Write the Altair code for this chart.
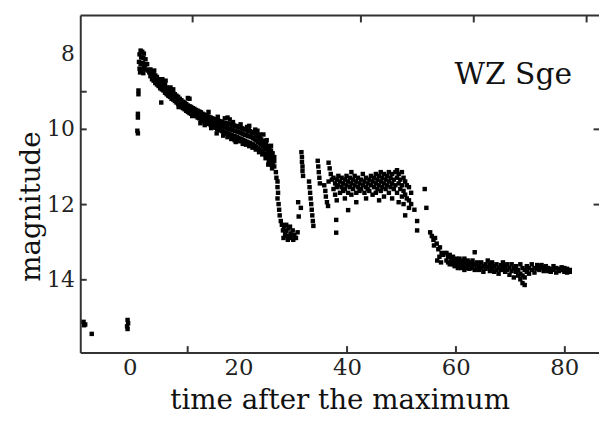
import altair as alt
import pandas as pd

# ---------------- data ----------------
quiet = [(-8.5, 15.13), (-8.2, 15.2), (-8.4, 15.22), (-7.0, 15.45),
         (-0.4, 15.08), (-0.3, 15.17), (-0.5, 15.25), (-0.4, 15.32)]

rise = [(1.6, 8.98), (1.6, 9.08), (1.5, 9.6), (1.5, 9.7), (1.4, 10.05), (1.5, 10.12)]

peak = [(2.0, 7.92), (2.3, 7.95), (2.6, 8.0), (1.8, 8.02), (2.1, 8.1), (2.5, 8.12),
        (2.9, 8.15), (1.7, 8.22), (2.0, 8.28), (2.4, 8.25), (2.8, 8.3), (3.2, 8.28),
        (1.8, 8.4), (2.2, 8.42), (2.6, 8.38), (3.0, 8.42), (3.4, 8.45), (1.9, 8.5),
        (2.5, 8.52), (3.6, 8.5)]

# rows: time, brightest, middle, faintest magnitude of the declining band
decline = [
    (3.8, 8.42, 8.5, 8.6), (4.1, 8.48, 8.58, 8.68), (4.4, 8.55, 8.62, 8.72),
    (4.7, 8.58, 8.68, 8.78), (5.0, 8.62, 8.7, 8.82), (5.3, 8.68, 8.78, 8.86),
    (5.6, 8.72, 8.8, 8.92), (5.9, 8.76, 8.85, 8.95), (6.2, 8.8, 8.9, 8.98),
    (6.5, 8.84, 8.92, 9.04), (6.8, 8.9, 8.98, 9.08), (7.1, 8.93, 9.02, 9.12),
    (7.4, 8.98, 9.06, 9.15), (7.7, 9.0, 9.1, 9.2), (8.0, 9.05, 9.12, 9.22),
    (8.3, 9.08, 9.18, 9.26), (8.6, 9.12, 9.2, 9.3), (8.9, 9.15, 9.25, 9.34),
    (9.2, 9.2, 9.28, 9.36), (9.5, 9.24, 9.32, 9.42), (9.8, 9.28, 9.36, 9.45),
    (10.1, 9.3, 9.4, 9.48), (10.4, 9.34, 9.42, 9.52), (10.7, 9.38, 9.46, 9.55),
    (11.0, 9.4, 9.48, 9.58), (11.3, 9.42, 9.5, 9.6), (11.6, 9.45, 9.53, 9.62),
    (11.9, 9.47, 9.55, 9.65), (12.2, 9.5, 9.58, 9.66), (12.5, 9.52, 9.6, 9.7),
    (12.8, 9.54, 9.62, 9.72), (13.1, 9.56, 9.65, 9.74), (13.4, 9.6, 9.67, 9.77),
    (13.7, 9.62, 9.7, 9.8), (14.0, 9.64, 9.72, 9.82), (14.3, 9.66, 9.74, 9.85),
    (14.6, 9.68, 9.77, 9.87), (14.9, 9.7, 9.8, 9.9), (15.2, 9.72, 9.82, 9.92),
    (15.5, 9.74, 9.84, 9.95), (15.8, 9.76, 9.86, 9.97), (16.1, 9.78, 9.88, 10.0),
    (16.4, 9.79, 9.9, 10.02), (16.7, 9.8, 9.92, 10.04), (17.0, 9.82, 9.94, 10.06),
    (17.3, 9.84, 9.95, 10.08), (17.6, 9.85, 9.96, 10.1), (17.9, 9.86, 9.98, 10.12),
    (18.2, 9.86, 10.0, 10.13), (18.5, 9.88, 10.01, 10.15), (18.8, 9.9, 10.02, 10.17),
    (19.1, 9.9, 10.04, 10.19), (19.4, 9.92, 10.05, 10.2), (19.7, 9.93, 10.07, 10.22),
    (20.0, 9.95, 10.08, 10.24), (20.3, 9.96, 10.1, 10.26), (20.6, 9.98, 10.12, 10.28),
    (20.9, 10.0, 10.14, 10.3), (21.2, 10.01, 10.16, 10.32), (21.5, 10.03, 10.17, 10.34),
    (21.8, 10.05, 10.19, 10.36), (22.1, 10.06, 10.2, 10.38), (22.4, 10.08, 10.22, 10.4),
    (22.7, 10.1, 10.25, 10.42), (23.0, 10.12, 10.28, 10.45), (23.3, 10.16, 10.31, 10.48),
    (23.6, 10.2, 10.35, 10.52), (23.9, 10.24, 10.38, 10.55), (24.2, 10.28, 10.42, 10.58),
    (24.5, 10.32, 10.46, 10.62), (24.8, 10.36, 10.5, 10.66), (25.1, 10.4, 10.54, 10.7),
    (25.4, 10.46, 10.6, 10.76), (25.7, 10.52, 10.65, 10.8), (26.0, 10.58, 10.7, 10.86),
    (26.3, 10.65, 10.78, 10.93), (26.6, 10.75, 10.86, 11.0),
]

decline_extra = [(5.8, 9.3), (10.7, 9.18), (11.0, 9.2), (17.5, 9.72), (18.0, 9.7),
                 (18.4, 9.75), (21.6, 9.95), (22.0, 9.92), (8.0, 8.95), (6.6, 8.72),
                 (14.5, 9.55), (19.5, 10.35), (23.5, 10.05), (24.6, 10.15), (25.5, 10.95),
                 (26.2, 11.05), (13.0, 9.85), (16.0, 10.12),
                 (17.2, 10.18), (18.0, 10.22), (18.7, 10.27), (19.3, 10.3), (20.1, 10.33),
                 (20.8, 10.4), (21.4, 10.42), (22.0, 10.46), (22.6, 10.5), (23.2, 10.55),
                 (23.8, 10.62), (24.4, 10.68), (25.0, 10.78), (25.6, 10.88), (26.1, 10.95),
                 (19.0, 9.82), (20.4, 9.88), (21.9, 9.98), (23.1, 10.02), (24.0, 10.15),
                 (25.2, 10.3), (26.0, 10.45), (4.5, 8.45), (6.0, 8.68), (7.5, 8.9),
                 (9.0, 9.42), (11.5, 9.66), (13.8, 9.9), (15.0, 9.98), (16.2, 9.68)]

dip = [(26.9, 11.15), (27.0, 11.3), (27.2, 11.4), (27.2, 11.55), (27.3, 11.7),
       (27.2, 11.85), (27.4, 12.0), (27.5, 12.15), (27.6, 12.3), (27.8, 12.45),
       (28.0, 12.55), (28.2, 12.7), (28.4, 12.6), (28.6, 12.8), (28.8, 12.72),
       (29.0, 12.85), (29.2, 12.65), (29.4, 12.9), (29.6, 12.78), (29.8, 12.88),
       (30.0, 12.7), (30.3, 12.82), (30.6, 12.9), (30.9, 12.75), (28.3, 12.9),
       (29.1, 12.95), (30.1, 12.95), (28.8, 12.55), (29.5, 12.6)]

rebound = [(31.6, 10.62), (31.7, 10.75), (31.7, 10.88), (31.8, 11.0), (31.8, 11.12),
           (31.9, 11.25), (31.0, 11.95), (31.1, 12.33), (31.5, 12.1),
           (33.0, 11.4), (33.1, 11.55), (33.2, 11.7), (33.3, 11.85), (33.4, 12.0),
           (33.5, 12.15), (33.6, 12.3), (33.7, 12.45), (33.8, 12.58),
           (34.6, 10.85), (34.7, 11.0), (34.8, 11.15), (34.9, 11.3), (35.0, 11.45),
           (35.8, 11.5), (36.0, 11.65), (36.1, 11.8), (36.3, 11.95), (36.5, 12.05),
           (36.6, 11.4), (36.6, 10.9), (36.8, 11.05), (37.0, 11.2), (37.2, 11.35),
           (38.0, 12.42), (38.0, 12.76), (40.2, 12.16)]

plateau = [
    (37.5, 11.3), (37.5, 11.6), (37.8, 11.45), (37.8, 11.75), (38.1, 11.35), (38.1, 11.55),
    (38.1, 11.9), (38.4, 11.25), (38.4, 11.5), (38.7, 11.4), (38.7, 11.7), (39.0, 11.3),
    (39.0, 11.55), (39.3, 11.45), (39.3, 11.65), (39.6, 11.35), (39.6, 11.6), (39.6, 11.85),
    (39.9, 11.25), (39.9, 11.5), (40.2, 11.4), (40.2, 11.7), (40.5, 11.3), (40.5, 11.55),
    (40.8, 11.15), (40.8, 11.45), (40.8, 11.75), (41.1, 11.35), (41.1, 11.6), (41.4, 11.25),
    (41.4, 11.5), (41.7, 11.4), (41.7, 11.7), (41.7, 11.95), (42.0, 11.3), (42.0, 11.55),
    (42.3, 11.45), (42.3, 11.65), (42.6, 11.35), (42.6, 11.6), (42.9, 11.2), (42.9, 11.5),
    (43.2, 11.4), (43.2, 11.7), (43.5, 11.3), (43.5, 11.55), (43.5, 11.85), (43.8, 11.45),
    (43.8, 11.6), (44.1, 11.35), (44.1, 11.65), (44.4, 11.25), (44.4, 11.5), (44.7, 11.4),
    (44.7, 11.75), (45.0, 11.3), (45.0, 11.55), (45.3, 11.2), (45.3, 11.45), (45.3, 11.7),
    (45.6, 11.35), (45.6, 11.6), (45.9, 11.25), (45.9, 11.5), (45.9, 11.9), (46.2, 11.15),
    (46.2, 11.4), (46.2, 11.65), (46.5, 11.3), (46.5, 11.55), (46.8, 11.2), (46.8, 11.45),
    (46.8, 11.8), (47.1, 11.35), (47.1, 11.6), (47.4, 11.25), (47.4, 11.5), (47.7, 11.15),
    (47.7, 11.4), (47.7, 11.7), (48.0, 11.3), (48.0, 11.55), (48.3, 11.2), (48.3, 11.45),
    (48.3, 11.85), (48.6, 11.35), (48.6, 11.6), (48.9, 11.15), (48.9, 11.5), (49.2, 11.1),
    (49.2, 11.3), (49.2, 11.7), (49.5, 11.2), (49.5, 11.45), (49.5, 11.95), (49.8, 11.35),
    (49.8, 11.6), (50.1, 11.15), (50.1, 11.5), (50.1, 11.8), (50.4, 11.3), (50.4, 11.65),
    (50.4, 12.0), (50.7, 11.4), (50.7, 11.75), (50.7, 12.3), (51.0, 11.5), (51.0, 11.85),
    (51.4, 11.55), (51.4, 11.9), (51.4, 12.1), (51.8, 11.7), (51.8, 12.0), (52.4, 12.15),
    (52.9, 12.45), (52.9, 12.7), (54.3, 11.6), (54.6, 12.1)]

late = [
    (55.3, 12.75), (55.6, 12.85), (55.9, 12.95), (56.2, 12.9), (56.0, 13.1), (56.5, 13.05),
    (56.8, 13.2), (57.1, 13.15), (57.4, 13.3), (57.0, 13.4), (57.7, 13.35), (58.0, 13.3),
    (56.6, 13.5), (57.3, 13.55), (58.3, 13.3), (58.3, 13.5), (58.6, 13.4), (58.6, 13.55),
    (58.9, 13.35), (58.9, 13.6), (59.2, 13.45), (59.2, 13.55), (59.5, 13.4), (59.5, 13.6),
    (59.8, 13.5), (59.8, 13.65), (60.1, 13.45), (60.1, 13.6), (60.4, 13.5), (60.4, 13.7),
    (60.7, 13.45), (60.7, 13.6), (61.0, 13.55), (61.0, 13.7), (61.3, 13.5), (61.3, 13.65),
    (61.6, 13.45), (61.6, 13.6), (61.6, 13.75), (61.9, 13.55), (61.9, 13.7), (62.2, 13.5),
    (62.2, 13.65), (62.5, 13.6), (62.5, 13.72), (62.8, 13.55), (62.8, 13.7), (63.1, 13.5),
    (63.1, 13.65), (63.5, 13.28), (63.5, 13.6), (63.5, 13.75), (63.9, 13.55), (63.9, 13.7),
    (64.3, 13.6), (64.3, 13.75), (64.7, 13.55), (64.7, 13.7), (65.1, 13.65), (65.1, 13.8),
    (65.5, 13.6), (65.5, 13.72), (65.9, 13.5), (65.9, 13.68), (66.3, 13.6), (66.3, 13.78),
    (66.7, 13.55), (66.7, 13.7), (67.1, 13.65), (67.1, 13.8), (67.5, 13.6), (67.5, 13.75),
    (67.9, 13.7), (67.9, 13.85), (68.3, 13.62), (68.3, 13.75), (68.7, 13.55), (68.7, 13.7),
    (69.1, 13.65), (69.1, 13.8), (69.5, 13.6), (69.5, 13.75), (69.9, 13.7), (69.9, 13.88),
    (70.3, 13.6), (70.3, 13.78), (70.7, 13.7), (70.7, 13.95), (71.1, 13.65), (71.1, 13.8),
    (71.5, 13.75), (71.5, 13.9), (71.9, 13.6), (71.9, 13.85), (71.9, 14.0), (72.3, 13.7),
    (72.3, 13.9), (72.3, 14.1), (72.7, 13.75), (72.7, 13.95), (72.7, 14.15), (73.1, 13.65),
    (73.1, 13.8), (73.5, 13.7), (73.5, 13.85), (74.0, 13.6), (74.0, 13.75), (74.5, 13.7),
    (74.5, 13.82), (75.0, 13.62), (75.0, 13.72), (75.4, 13.65), (75.4, 13.75), (75.8, 13.62),
    (75.8, 13.7), (76.2, 13.68), (76.2, 13.78), (76.6, 13.65), (76.6, 13.72), (77.0, 13.7),
    (77.0, 13.78), (77.5, 13.72), (77.5, 13.8), (78.0, 13.65), (78.0, 13.75), (78.5, 13.7),
    (78.5, 13.82), (79.0, 13.72), (79.0, 13.78), (79.5, 13.68), (79.5, 13.75), (80.0, 13.7),
    (80.0, 13.8), (80.5, 13.72), (80.5, 13.82), (81.0, 13.75), (81.0, 13.8)]

x_labels = [0, 20, 40, 60, 80]
y_labels = [8, 10, 12, 14]
bottom_ticks = [10.5, 40, 60, 80]
top_ticks = [11.5, 42.5, 63.2, 84]
left_ticks = [9, 10, 12, 14]
right_ticks = [10, 12]

X_DOMAIN = [-9.11, 86.38]
Y_DOMAIN = [6.974, 15.947]

star_label = "WZ Sge"
star_label_pos = (70.6, 8.8)

# ---------------- table ----------------
rows = []
for t, m in quiet + rise + peak + decline_extra + dip + rebound + plateau + late:
    rows.append({"t": t, "mag": m})
for t, a, b, c in decline:
    for m in (a, b, c):
        rows.append({"t": t, "mag": m})
df = pd.DataFrame(rows)

W, H = 524, 341
FONT = "DejaVu Serif"
LINE = "#333333"

x_scale = alt.Scale(domain=X_DOMAIN, nice=False, zero=False)
y_scale = alt.Scale(domain=Y_DOMAIN, reverse=True, nice=False, zero=False)

base = alt.Chart(df)

points = base.mark_square(size=20, color="black", opacity=1).encode(
    x=alt.X("t:Q", scale=x_scale, axis=alt.Axis(
        orient="bottom", values=x_labels, ticks=False, tickSize=0, grid=False,
        domain=True, domainColor=LINE, domainWidth=2,
        labelFont=FONT, labelFontSize=23, labelColor="#222222", labelPadding=4,
        title="time after the maximum", titleFont=FONT, titleFontSize=28,
        titleFontWeight="normal", titleColor="#111111", titleBaseline="alphabetic",
        titleY=56)),
    y=alt.Y("mag:Q", scale=y_scale, axis=alt.Axis(
        orient="left", values=y_labels, ticks=False, tickSize=0, grid=False,
        domain=True, domainColor=LINE, domainWidth=2,
        labelFont=FONT, labelFontSize=22, labelColor="#222222", labelPadding=6,
        title="magnitude", titleFont=FONT, titleFontSize=28, titleFontWeight="normal",
        titleColor="#111111", titleAngle=270, titleAlign="center", titleBaseline="bottom",
        titleX=-35, titleY=193)),
)

frame_a = base.mark_point(opacity=0).encode(
    x=alt.X("t:Q", scale=x_scale, axis=alt.Axis(
        orient="bottom", offset=-H, values=top_ticks, labels=False, ticks=True,
        tickSize=7, tickWidth=2, tickColor=LINE, domain=True, domainColor=LINE,
        domainWidth=2, grid=False, title=None)),
    y=alt.Y("mag:Q", scale=y_scale, axis=alt.Axis(
        orient="right", offset=-W, values=left_ticks, labels=False, ticks=True,
        tickSize=6, tickWidth=2, tickColor=LINE, domain=False, grid=False, title=None)),
)

frame_b = base.mark_point(opacity=0).encode(
    x=alt.X("t:Q", scale=x_scale, axis=alt.Axis(
        orient="top", offset=-H, values=bottom_ticks, labels=False, ticks=True,
        tickSize=7, tickWidth=2, tickColor=LINE, domain=False, grid=False, title=None)),
    y=alt.Y("mag:Q", scale=y_scale, axis=alt.Axis(
        orient="left", offset=-W, values=right_ticks, labels=False, ticks=True,
        tickSize=6, tickWidth=2, tickColor=LINE, domain=False, grid=False, title=None)),
)

label_df = pd.DataFrame({"t": [star_label_pos[0]], "mag": [star_label_pos[1]], "label": [star_label]})
label = alt.Chart(label_df).mark_text(
    font=FONT, fontSize=30, align="center", baseline="alphabetic", color="#111111"
).encode(
    x=alt.X("t:Q", scale=x_scale, axis=None),
    y=alt.Y("mag:Q", scale=y_scale, axis=None),
    text="label:N",
)

chart = alt.layer(points, frame_a, frame_b, label).resolve_axis(
    x="independent", y="independent"
).properties(
    width=W, height=H,
    autosize=alt.AutoSizeParams(type="none"),
    padding={"left": 73, "top": 5, "right": 0, "bottom": 64},
).configure_view(strokeWidth=0).configure(background="white")

chart.save("out.html", embed_options={"renderer": "svg", "actions": False})
